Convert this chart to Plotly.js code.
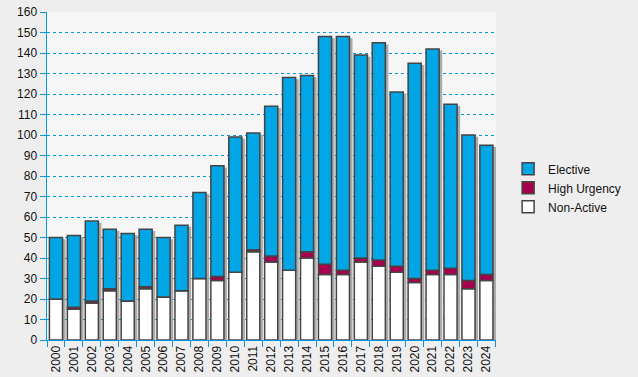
<!DOCTYPE html>
<html>
<head>
<meta charset="utf-8">
<script src="https://cdn.plot.ly/plotly-3.0.1.min.js"></script>
<style>html,body{margin:0;padding:0;background:#eeeeee;}#chart{width:638px;height:377px;}</style>
</head>
<body>
<div id="chart"></div>
<script>
const years = ['2000','2001','2002','2003','2004','2005','2006','2007','2008','2009','2010','2011','2012','2013','2014','2015','2016','2017','2018','2019','2020','2021','2022','2023','2024'];
const nonActive = [20,15,18,24,19,25,21,24,30,29,33,43,38,34,40,32,32,38,36,33,28,32,32,25,29];
const highUrgency = [0,1,1,1,0,1,0,0,0,2,0,1,3,0,3,5,2,2,3,3,2,2,3,4,3];
const totals = [50,51,58,54,52,54,50,56,72,85,99,101,114,128,129,148,148,139,145,121,135,142,115,100,95];
const elective = totals.map((t,i)=>t - nonActive[i] - highUrgency[i]);

const W = 0.73;
const outline = {color:'#444444', width:1.5};
const redBase = nonActive.slice();
const eleBase = nonActive.map((v,i)=>v + highUrgency[i]);

const traces = [
  {type:'bar', x:years, y:totals.map(t=>t-0.8), base:0, width:W, offset:-W/2+0.17,
   marker:{color:'rgba(110,110,110,0.55)', line:{width:0}}, showlegend:false, hoverinfo:'skip'},
  {type:'bar', name:'Non-Active', x:years, y:nonActive, base:0, width:W,
   marker:{color:'#ffffff', line:outline}},
  {type:'bar', name:'High Urgency', x:years, y:highUrgency, base:redBase, width:W,
   marker:{color:'#a8004f', line:outline}},
  {type:'bar', name:'Elective', x:years, y:elective, base:eleBase, width:W,
   marker:{color:'#00a6e6', line:outline}}
];

const layout = {
  width:638, height:377,
  margin:{l:47, r:136, t:12, b:37},
  paper_bgcolor:'#eeeeee',
  plot_bgcolor:'#f6f6f6',
  barmode:'overlay',
  font:{family:'Liberation Sans, Arial, sans-serif', size:12, color:'#111111'},
  xaxis:{type:'category', showgrid:false, tickangle:-90, tickson:'boundaries',
    ticks:'outside', ticklen:6, tickcolor:'#0099dd', showline:true, linecolor:'#0099dd', linewidth:1,
    tickfont:{size:12}, zeroline:false},
  yaxis:{range:[0,160], dtick:10, showgrid:true, gridcolor:'#0099dd', griddash:'dot', gridwidth:1,
    ticks:'outside', ticklen:6, tickcolor:'#0099dd', showline:true, linecolor:'#0099dd', linewidth:1.5,
    zeroline:false, tickfont:{size:12}},
  legend:{x:1.027, y:0.566, xanchor:'left', yanchor:'top', traceorder:'reversed', itemwidth:30,
    bgcolor:'rgba(0,0,0,0)', font:{size:12}},
  showlegend:true
};

Plotly.newPlot('chart', traces, layout, {displayModeBar:false, staticPlot:true});
</script>
</body>
</html>
